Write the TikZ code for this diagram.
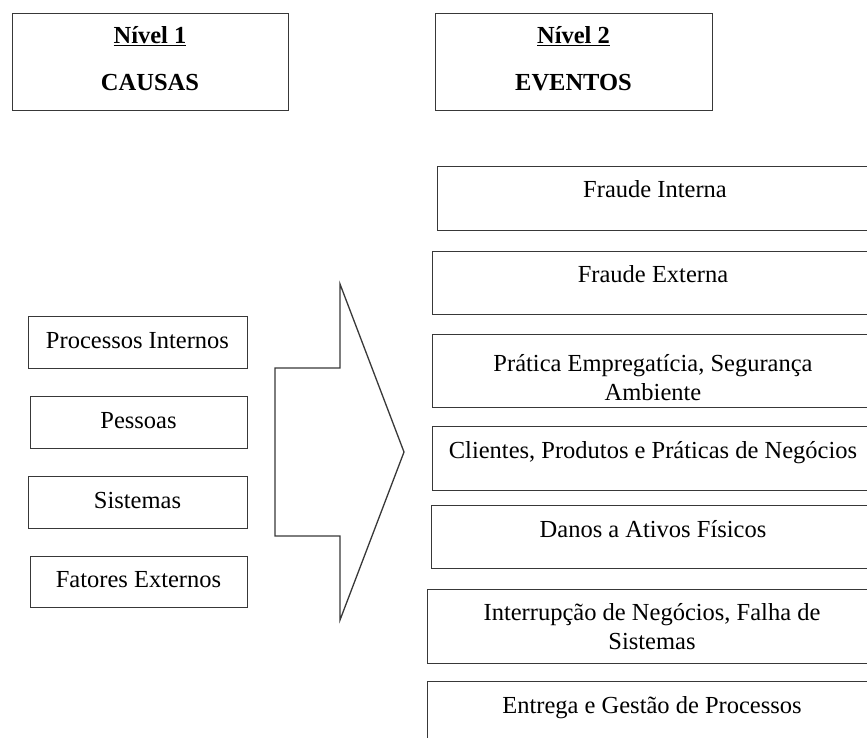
\documentclass[tikz,border=0pt]{standalone}
\usepackage{fontspec}
\setmainfont{Liberation Serif}
\begin{document}
\begin{tikzpicture}[x=1pt,y=-1pt,
  frame/.style={draw=black!78, line width=1.3pt, inner sep=0pt, anchor=north west},
  txt/.style={font=\fontsize{24.5}{28.5}\selectfont, anchor=base, inner sep=0pt},
  head/.style={txt, font=\fontsize{24.5}{28.5}\selectfont\bfseries}]
\useasboundingbox (0,0) rectangle (867,738);
\clip (0,0) rectangle (867,738);

% level headers
\node[frame, minimum width=276, minimum height=97] (h1) at (12,13) {};
\node[head] (h1a) at (150,44) {\underline{Nível 1}};
\node[head] (h1b) at (150,91) {CAUSAS};
\node[frame, minimum width=277, minimum height=97] (h2) at (435,13) {};
\node[head] (h2a) at (573.5,44) {\underline{Nível 2}};
\node[head] (h2b) at (573.5,91) {EVENTOS};

% causes
\node[frame, minimum width=219, minimum height=52] (c1) at (28,316) {};
\node[txt] (c1t) at (137.5,348) {Processos Internos};
\node[frame, minimum width=217, minimum height=52] (c2) at (30,396) {};
\node[txt] (c2t) at (138.5,428) {Pessoas};
\node[frame, minimum width=219, minimum height=52] (c3) at (28,476) {};
\node[txt] (c3t) at (137.5,508) {Sistemas};
\node[frame, minimum width=217, minimum height=51] (c4) at (30,556) {};
\node[txt] (c4t) at (138.5,587) {Fatores Externos};

% block arrow
\coordinate (a1) at (275,368);
\coordinate (a2) at (340,368);
\coordinate (a3) at (340,284);
\coordinate (a4) at (404,452);
\coordinate (a5) at (340,620);
\coordinate (a6) at (340,536);
\coordinate (a7) at (275,536);
\draw[black!78, line width=1.3pt, line join=miter]
  (a1) -- (a2) -- (a3) -- (a4) -- (a5) -- (a6) -- (a7) -- cycle;

% events
\node[frame, minimum width=440, minimum height=64] (e1) at (437,166) {};
\node[txt] (e1t) at (655,198) {Fraude Interna};
\node[frame, minimum width=444, minimum height=63] (e2) at (432,251) {};
\node[txt] (e2t) at (653,282) {Fraude Externa};
\node[frame, minimum width=444, minimum height=73] (e3) at (432,334) {};
\node[txt] (e3t) at (653,371) {Prática Empregatícia, Segurança};
\node[txt] (e3u) at (653,400) {Ambiente};
\node[frame, minimum width=444, minimum height=64] (e4) at (432,426) {};
\node[txt] (e4t) at (653,458) {Clientes, Produtos e Práticas de Negócios};
\node[frame, minimum width=446, minimum height=63] (e5) at (431,505) {};
\node[txt] (e5t) at (653,537) {Danos a Ativos Físicos};
\node[frame, minimum width=450, minimum height=74] (e6) at (427,589) {};
\node[txt] (e6t) at (652,620) {Interrupção de Negócios, Falha de};
\node[txt] (e6u) at (652,649) {Sistemas};
\node[frame, minimum width=450, minimum height=70] (e7) at (427,681) {};
\node[txt] (e7t) at (652,713) {Entrega e Gestão de Processos};
\end{tikzpicture}
\end{document}
